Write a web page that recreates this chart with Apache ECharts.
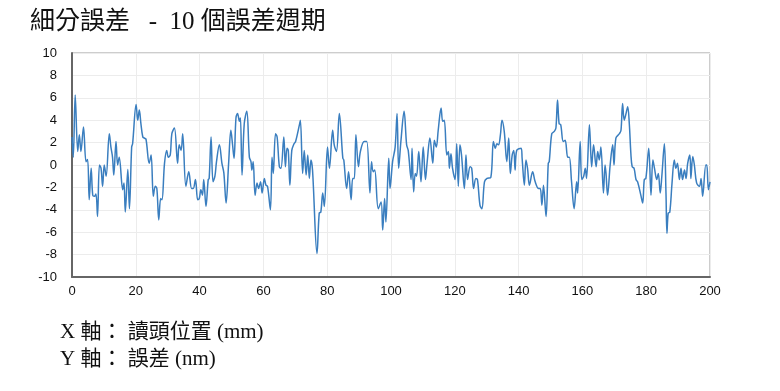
<!DOCTYPE html>
<html>
<head>
<meta charset="utf-8">
<script src="https://cdn.jsdelivr.net/npm/echarts@6/dist/echarts.min.js"></script>
<style>html,body{margin:0;padding:0;background:#fff;}#c{width:780px;height:391px;}</style>
</head>
<body>
<div id="c"></div>
<script>
const titleText = "細分誤差   -  10 個誤差週期";
const xAxisNote = "X 軸： 讀頭位置 (mm)";
const yAxisNote = "Y 軸： 誤差 (nm)";
const xTicks = [0, 20, 40, 60, 80, 100, 120, 140, 160, 180, 200];
const yTicks = [-10, -8, -6, -4, -2, 0, 2, 4, 6, 8, 10];

const posMm = [
0.0,0.4,1.0,1.8,2.3,2.8,3.6,4.4,4.9,5.4,6.0,6.5,7.0,7.5,8.0,8.6,9.1,9.6,10.1,10.7,
11.7,12.2,12.7,13.1,13.8,14.3,14.8,15.9,16.3,16.7,17.5,18.0,18.7,19.0,20.1,20.6,21.1,21.6,22.2,22.7,
23.2,24.2,24.8,25.5,26.1,26.6,27.2,27.8,28.2,29.0,29.7,30.2,30.8,31.3,32.1,33.1,33.6,34.2,34.7,35.7,
36.6,37.5,38.0,38.7,39.4,39.9,40.4,40.9,41.3,42.0,42.7,43.0,43.6,44.2,44.8,45.3,46.2,47.0,47.6,48.3,
49.1,49.8,50.3,50.8,51.4,51.9,52.5,52.8,53.3,54.0,54.8,55.6,56.1,56.4,56.8,57.4,58.0,58.5,59.1,59.6,
60.3,60.8,61.3,62.2,62.7,63.1,63.8,64.3,65.0,65.5,66.4,66.9,67.4,67.8,68.3,68.9,69.6,70.1,71.3,71.6,
72.3,72.8,73.4,73.9,74.4,74.9,75.4,76.8,77.5,78.0,78.6,79.1,80.1,80.7,81.7,82.2,82.9,83.8,84.9,85.2,
86.1,86.7,87.5,88.0,88.5,89.0,89.8,90.4,91.6,92.4,93.4,93.9,94.4,94.9,96.0,96.9,97.4,98.0,98.4,99.3,
99.7,100.5,101.3,101.9,102.4,103.1,104.1,104.9,105.4,106.3,106.6,107.1,107.6,108.0,108.7,109.4,110.1,110.8,111.3,112.2,
113.1,113.6,114.2,114.8,115.7,116.2,116.7,117.5,118.0,118.3,118.8,119.3,120.1,120.6,121.1,121.6,122.1,123.0,123.5,124.0,
124.8,125.3,125.9,126.6,127.1,127.9,128.5,129.3,130.1,131.3,132.1,132.7,133.2,133.7,134.3,134.8,135.5,136.3,136.9,137.4,
138.0,138.5,138.9,139.4,140.8,141.1,141.8,142.3,142.8,143.4,144.4,145.2,146.3,146.8,147.3,147.8,148.6,149.3,149.6,150.4,
151.2,151.7,152.2,152.7,153.2,154.0,154.6,155.4,155.9,156.6,157.4,158.2,158.5,159.3,159.8,160.4,160.9,161.3,162.2,162.9,
163.5,164.3,164.8,165.3,165.8,166.6,167.1,167.4,167.9,168.7,169.5,169.9,170.5,171.6,172.1,172.6,173.1,173.6,174.2,174.7,
175.2,175.6,176.2,176.8,177.3,178.4,178.9,179.4,179.9,180.8,181.5,182.1,182.6,183.3,183.8,184.4,184.9,185.7,186.2,186.5,
186.9,187.4,188.1,188.8,189.3,189.8,190.4,190.9,191.4,192.0,192.5,193.0,193.7,194.0,194.6,195.1,195.8,196.7,197.2,197.7,
198.7,199.0,199.5,200.0
];
const errNm = [
2.5,0.7,6.25,1.2,2.7,1.2,3.4,0.3,0.5,-3.1,-0.3,-2.7,-2.8,-2.6,-4.6,0.0,-0.3,-1.9,0.0,-1.0,
2.8,1.6,0.7,-0.9,2.1,0.0,0.7,-2.2,-1.6,-4.2,-0.4,-3.9,1.6,1.9,5.4,4.0,4.9,3.7,2.5,2.4,
2.3,0.15,0.9,-2.8,-1.9,-2.1,-4.9,-3.0,-3.1,0.15,1.3,0.7,0.9,2.8,3.3,0.15,1.8,1.3,2.8,-1.9,
-0.6,-2.1,-2.1,-1.3,-3.1,-3.0,-2.2,-2.7,-1.3,-3.7,-1.3,-1.2,2.5,-1.5,-1.0,0.3,1.8,0.15,-0.7,-3.4,
0.15,3.1,1.9,0.6,4.2,4.6,3.9,4.2,-0.9,3.7,4.8,0.7,0.3,-0.45,0.3,-2.7,-1.6,-2.1,-1.5,-2.5,
-1.2,-1.8,-1.9,-4.0,0.7,-0.75,2.8,2.5,-0.15,-0.3,2.5,-0.15,1.5,1.3,-1.8,1.3,1.9,2.1,3.6,4.0,
-0.75,1.3,-0.9,0.9,-1.2,0.45,-0.45,-7.9,-4.3,-4.2,-2.5,-3.7,1.6,-0.3,3.1,1.8,1.2,4.6,0.6,0.45,
-2.1,-0.6,-3.1,-1.2,-1.2,2.7,-0.15,1.2,2.1,2.1,-2.5,0.3,-0.6,-0.45,-3.9,-3.3,-5.8,-3.0,-5.1,0.6,
-2.1,0.3,1.6,4.6,-0.3,2.1,4.8,1.8,1.3,-1.3,1.5,-2.4,-0.75,-1.0,1.2,-1.5,1.6,-1.3,0.15,2.4,
0.15,2.2,1.6,3.1,5.1,3.9,4.0,0.9,1.2,-0.3,1.0,-0.3,-1.3,1.9,-1.9,1.8,0.9,-2.1,0.9,-1.3,
-0.15,-0.3,-2.1,-1.2,-1.3,-3.6,-3.9,-1.5,-1.2,-1.1,2.1,1.5,1.9,1.8,2.7,4.0,3.0,0.3,2.4,-0.75,
0.9,1.3,-0.45,1.3,1.5,0.6,-1.8,0.45,-0.3,-1.8,-0.6,-1.5,-2.1,-2.1,-3.6,-1.8,-4.6,0.15,0.3,2.8,
3.0,3.3,5.8,3.7,3.6,2.1,2.2,0.7,0.7,-1.5,-3.9,-1.5,-2.5,2.1,-1.3,-1.0,-0.3,-1.2,3.6,-0.15,
1.8,-0.15,1.2,0.45,1.6,-2.5,0.0,-0.75,-2.7,0.0,1.8,0.0,2.4,2.8,3.1,5.5,4.0,4.5,5.2,3.7,
1.0,-0.15,-0.3,-1.3,-1.5,-2.8,-3.4,-1.3,-1.2,1.5,-2.7,0.45,-0.3,-1.3,-0.75,-2.5,-1.0,1.9,-2.5,-6.1,
-4.3,-4.2,-1.6,0.45,-0.3,0.15,-1.3,-0.3,-1.3,-0.45,-1.2,0.15,0.9,-1.2,0.75,0.0,-1.6,-1.9,-1.2,-2.8,
0.0,0.0,-2.2,-1.5
];

const seriesData = posMm.map((x, i) => [x, errNm[i]]);

const chart = echarts.init(document.getElementById('c'), null, {renderer: 'canvas'});
const labelFont = {color: '#111', fontSize: 13, fontFamily: 'Liberation Sans, Arial, sans-serif'};
chart.setOption({
  animation: false,
  backgroundColor: '#ffffff',
  grid: {left: 72, right: 70, top: 53, bottom: 114, show: true, borderColor: '#9a9a9a', borderWidth: 1, containLabel: false},
  xAxis: {
    type: 'value', min: xTicks[0], max: xTicks[xTicks.length - 1], interval: xTicks[1] - xTicks[0],
    axisLine: {show: true, onZero: false, lineStyle: {color: '#666', width: 2}},
    axisTick: {show: false},
    axisLabel: Object.assign({margin: 8}, labelFont),
    splitLine: {show: true, lineStyle: {color: '#ececec', width: 1}}
  },
  yAxis: {
    type: 'value', min: yTicks[0], max: yTicks[yTicks.length - 1], interval: yTicks[1] - yTicks[0],
    axisLine: {show: true, onZero: false, lineStyle: {color: '#666', width: 2}},
    axisTick: {show: false},
    axisLabel: Object.assign({margin: 15}, labelFont),
    splitLine: {show: true, lineStyle: {color: '#ececec', width: 1}}
  },
  series: [{
    type: 'line', data: seriesData, showSymbol: false, smooth: 0.35,
    lineStyle: {color: '#3a7ebf', width: 1.5}
  }],
  graphic: [
    {type: 'text', left: 30, top: 10, style: {text: titleText, fill: '#111', font: '25px "Liberation Serif", "Noto Sans CJK TC", serif'}},
    {type: 'text', left: 60, top: 322, style: {text: xAxisNote, fill: '#111', font: '21px "Liberation Serif", "Noto Sans CJK TC", serif'}},
    {type: 'text', left: 60, top: 349, style: {text: yAxisNote, fill: '#111', font: '21px "Liberation Serif", "Noto Sans CJK TC", serif'}}
  ]
});
</script>
</body>
</html>
